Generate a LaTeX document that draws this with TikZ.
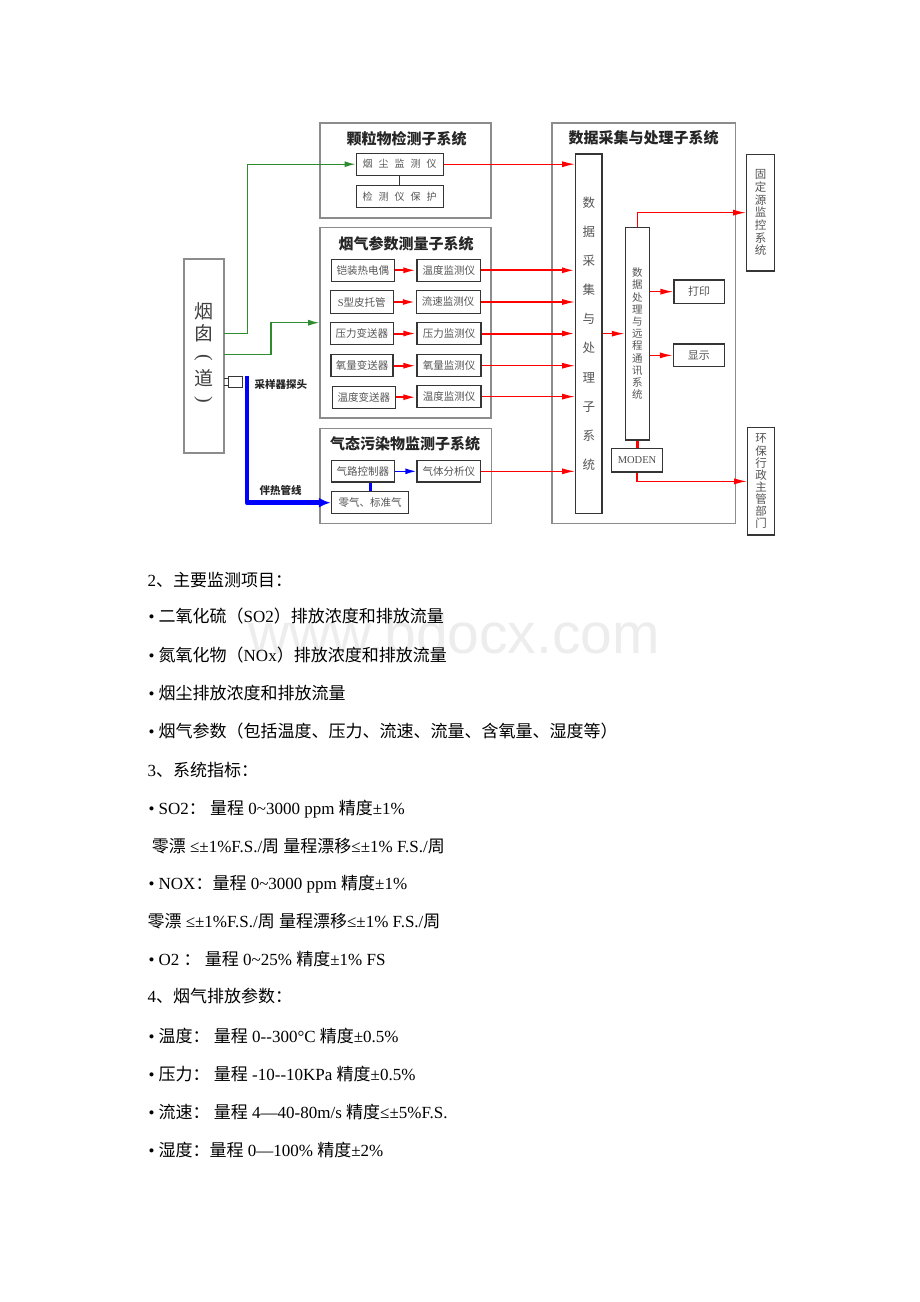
\documentclass[tikz,border=0pt]{standalone}
\usepackage{fontspec}
\setmainfont{Liberation Serif}
\newfontfamily\cjk{Noto Sans CJK SC}
\newfontfamily\wmfont{Liberation Sans}
\usetikzlibrary{arrows.meta,calc}
\definecolor{boxgray}{HTML}{8C8C8C}
\definecolor{inkdark}{HTML}{353535}
\definecolor{txtgray}{HTML}{555555}
\definecolor{grn}{HTML}{2E8B2E}
\definecolor{pureRed}{HTML}{FF0000}
\definecolor{pureBlue}{HTML}{0000FF}
\definecolor{wmgray}{HTML}{EDEDED}
\begin{document}
\begin{tikzpicture}[x=1pt,y=-1pt,
  outerbox/.style={draw=boxgray, line width=1.6pt, inner sep=0pt},
  ibox/.style={draw=inkdark, line width=1.1pt, inner sep=0pt, text=txtgray,
    font=\cjk\fontsize{10.5}{12}\selectfont},
  vbox/.style={ibox, align=center},
  ttl/.style={font=\cjk\bfseries\fontsize{15}{16}\selectfont, text=black!85, inner sep=0pt},
  lbl/.style={font=\cjk\bfseries\fontsize{10.5}{12}\selectfont, text=black!85, inner sep=0pt, anchor=west},
  chimch/.style={inner sep=0pt, text=black!75, font=\cjk\fontsize{19}{22}\selectfont},
  chimpar/.style={inner sep=0pt, text=black!75, font=\rmfamily\fontsize{20}{22}\selectfont},
  rline/.style={draw=pureRed, line width=1.3pt},
  rarr/.style={rline, -{Latex[length=13pt,width=6pt]}},
  rthick/.style={rarr, line width=2pt},
  garr/.style={draw=grn, line width=1.2pt, -{Latex[length=11pt,width=6pt]}},
  barr/.style={draw=pureBlue, line width=1.5pt, -{Latex[length=11pt,width=6pt]}},
  bbig/.style={draw=pureBlue, line width=4.5pt, line join=round, -{Latex[length=12pt,width=10pt]}},
  txt/.style={anchor=base west, inner sep=0pt, font=\fontsize{17}{20}\selectfont}
]
\fill[white] (0,0) rectangle (920,1302);
\useasboundingbox (0,0) rectangle (920,1302);

% ---------- watermark ----------
\node[anchor=base west, inner sep=0pt, text=wmgray, font=\wmfont\fontsize{57}{57}\selectfont] (wm) at (248,653) {www.bdocx.com};

% ---------- outer subsystem boxes ----------
\node[outerbox, minimum width=171, minimum height=95] (P1) at (405.5,170.5) {};
\node[outerbox, minimum width=171, minimum height=190.5] (P2) at (405.5,322.75) {};
\node[outerbox, minimum width=171.5, minimum height=95] (P3) at (405.75,476) {};
\node[outerbox, minimum width=183.5, minimum height=400.5] (P4) at (643.75,323.25) {};

\node[ttl] (T1) at (406.5,139) {颗粒物检测子系统};
\node[ttl] (T2) at (406,244) {烟气参数测量子系统};
\node[ttl] (T3) at (405,444) {气态污染物监测子系统};
\node[ttl] (T4) at (643.5,137.5) {数据采集与处理子系统};

% ---------- chimney ----------
\node[outerbox, minimum width=40, minimum height=194] (chim) at (204,356) {};
\node[chimch] (c1) at (203.5,311.7) {烟};
\node[chimch] (c2) at (203.5,333) {囱};
\node[chimpar, rotate=-90] (c3) at (203.5,357.5) {(};
\node[chimch] (c4) at (203.5,378) {道};
\node[chimpar, rotate=-90] (c5) at (203.5,399.5) {)};

% ---------- particulate subsystem ----------
\node[ibox, font=\cjk\fontsize{10}{12}\selectfont, minimum width=87.3, minimum height=21.7] (yc) at (399.7,164.2)
  {烟\hspace{6pt}尘\hspace{6pt}监\hspace{6pt}测\hspace{6pt}仪};
\node[ibox, font=\cjk\fontsize{10}{12}\selectfont, minimum width=87.3, minimum height=22.4] (bh) at (399.7,196.5)
  {检\hspace{6pt}测\hspace{6pt}仪\hspace{6pt}保\hspace{6pt}护};
\draw[draw=inkdark, line width=1.1pt] (yc.south) -- (bh.north);

% ---------- flue gas parameter rows ----------
\node[ibox, minimum width=63, minimum height=22] (r1a) at (362.8,270.3) {铠装热电偶};
\node[ibox, minimum width=63.7, minimum height=22] (r1b) at (448.8,270.3) {温度监测仪};
\node[ibox, minimum width=63, minimum height=22.3] (r2a) at (361.8,302) {{\rmfamily S}型皮托管};
\node[ibox, minimum width=63.7, minimum height=22.3] (r2b) at (448.2,302) {流速监测仪};
\node[ibox, minimum width=63, minimum height=22.3] (r3a) at (361.8,333.5) {压力变送器};
\node[ibox, minimum width=64, minimum height=22.3] (r3b) at (449,333.5) {压力监测仪};
\node[ibox, minimum width=62, minimum height=22] (r4a) at (362,365.7) {氧量变送器};
\node[ibox, minimum width=64, minimum height=22] (r4b) at (449,365.7) {氧量监测仪};
\node[ibox, minimum width=63, minimum height=22.3] (r5a) at (363.8,397.2) {温度变送器};
\node[ibox, minimum width=64, minimum height=22.4] (r5b) at (449,396.6) {温度监测仪};

% ---------- gaseous pollutant subsystem ----------
\node[ibox, minimum width=63, minimum height=21.3] (qlk) at (362.8,471.3) {气路控制器};
\node[ibox, minimum width=63.7, minimum height=21.3] (qtf) at (448.8,471.3) {气体分析仪};
\node[ibox, minimum width=77.4, minimum height=22] (lq) at (370,502.7) {零气、标准气};

% ---------- data acquisition ----------
\node[vbox, font=\cjk\fontsize{12.5}{29.1}\selectfont, minimum width=26.3, minimum height=359.3] (dac) at (588.85,333.65)
  {数\\据\\采\\集\\与\\处\\理\\子\\系\\统};
\node[vbox, font=\cjk\fontsize{10.5}{12.2}\selectfont, minimum width=24, minimum height=212.7] (dp) at (637.3,333.65)
  {数\\据\\处\\理\\与\\远\\程\\通\\讯\\系\\统};
\node[ibox, font=\cjk\fontsize{11}{12}\selectfont, minimum width=50.3, minimum height=23.3] (prt) at (699.15,291.65) {打印};
\node[ibox, font=\cjk\fontsize{11}{12}\selectfont, minimum width=51, minimum height=22.7] (shw) at (698.8,355.35) {显示};
\node[ibox, font=\rmfamily\fontsize{10.5}{12}\selectfont, text=black!70, minimum width=50.6, minimum height=23.3] (mod) at (637,460.35) {MODEN};
\node[vbox, font=\cjk\fontsize{11.5}{12.67}\selectfont, minimum width=27.6, minimum height=116.7] (gdy) at (760.5,212.65)
  {固\\定\\源\\监\\控\\系\\统};
\node[vbox, font=\cjk\fontsize{11.5}{12.14}\selectfont, minimum width=26.6, minimum height=107.3] (hb) at (761,481.35)
  {环\\保\\行\\政\\主\\管\\部\\门};

% ---------- red connectors ----------
\draw[rarr] (yc.east) -- (yc.east -| dac.west);
\draw[rthick] (r1b.east) -- (r1b.east -| dac.west);
\draw[rarr] (r2b.east) -- (r2b.east -| dac.west);
\draw[rthick] (r3b.east) -- (r3b.east -| dac.west);
\draw[rarr] (r4b.east) -- (r4b.east -| dac.west);
\draw[rarr] (r5b.east) -- (r5b.east -| dac.west);
\draw[rarr] (qtf.east) -- (qtf.east -| dac.west);
\foreach \i in {1,...,5} {
  \draw[rthick] (r\i a.east) -- (r\i a.east -| r\i b.west);
}
\draw[rarr] (dac.east) -- (dac.east -| dp.west);
\draw[rarr] (prt.west -| dp.east) -- (prt.west);
\draw[rarr] (shw.west -| dp.east) -- (shw.west);
\draw[rarr] (dp.north) |- (gdy.west);
\draw[draw=pureRed, line width=3pt] (dp.south) -- (dp.south |- mod.north);
\draw[rarr] (mod.south) |- (hb.west);

% ---------- green connectors ----------
\coordinate (g1) at (224,333.3);
\coordinate (g2) at (224,354.7);
\coordinate (g3) at (271,322.7);
\coordinate (g4) at (247.3,333.3);
\draw[garr] (g1) -- (g4) |- (yc.west);
\draw[garr] (g2) -| (g3) -- (g3 -| P2.west);

% ---------- sampling probe and heated line ----------
\node[draw=inkdark, line width=0.9pt, minimum width=14, minimum height=11, inner sep=0pt] (probe) at (235.5,382) {};
\draw[draw=inkdark, line width=0.9pt] ($(probe.north west)+(0,2.5)$) -- ++(-4,0);
\draw[draw=inkdark, line width=0.9pt] ($(probe.south west)+(0,-2.5)$) -- ++(-4,0);
\coordinate (b0) at (247,375.7);
\draw[bbig] (b0) |- (lq.west);
\draw[barr] (qlk.east) -- (qtf.west);
\draw[draw=pureBlue, line width=3pt] (lq.north) -- (lq.north |- qlk.south);
\node[lbl] (lp) at (254.5,384.3) {采样器探头};
\node[lbl] (lh) at (259.5,490) {伴热管线};

% ---------- text ----------
\node[txt] (t1) at (147.3,586.7) {2{\cjk 、主要监测项目：}};
\node[txt] (t2) at (148.3,622.7) {• {\cjk 二氧化硫（}SO2{\cjk ）排放浓度和排放流量}};
\node[txt] (t3) at (148.3,661) {• {\cjk 氮氧化物（}NOx{\cjk ）排放浓度和排放流量}};
\node[txt] (t4) at (148.3,699.3) {• {\cjk 烟尘排放浓度和排放流量}};
\node[txt] (t5) at (148.3,737.7) {• {\cjk 烟气参数（包括温度、压力、流速、流量、含氧量、湿度等）}};
\node[txt] (t6) at (147.3,776) {3{\cjk 、系统指标：}};
\node[txt] (t7) at (148.3,814.3) {• SO2{\cjk ：} {\cjk 量程} 0\textasciitilde3000 ppm {\cjk 精度}±1\%};
\node[txt] (t8) at (151.7,852) {{\cjk 零漂} ≤±1\%F.S./{\cjk 周} {\cjk 量程漂移}≤±1\% F.S./{\cjk 周}};
\node[txt] (t9) at (148.3,889.3) {• NOX{\cjk ：量程} 0\textasciitilde3000 ppm {\cjk 精度}±1\%};
\node[txt] (t10) at (147.3,927) {{\cjk 零漂} ≤±1\%F.S./{\cjk 周} {\cjk 量程漂移}≤±1\% F.S./{\cjk 周}};
\node[txt] (t11) at (148.3,965) {• O2 {\cjk ：} {\cjk 量程} 0\textasciitilde25\% {\cjk 精度}±1\% FS};
\node[txt] (t12) at (147.3,1002.7) {4{\cjk 、烟气排放参数：}};
\node[txt] (t13) at (148.3,1042) {• {\cjk 温度：} {\cjk 量程} 0-{}-300°C {\cjk 精度}±0.5\%};
\node[txt] (t14) at (148.3,1080) {• {\cjk 压力：} {\cjk 量程} -10-{}-10KPa {\cjk 精度}±0.5\%};
\node[txt] (t15) at (148.3,1118.7) {• {\cjk 流速：} {\cjk 量程} 4—40-80m/s {\cjk 精度}≤±5\%F.S.};
\node[txt] (t16) at (148.3,1156) {• {\cjk 湿度：量程} 0—100\% {\cjk 精度}±2\%};
\end{tikzpicture}
\end{document}
